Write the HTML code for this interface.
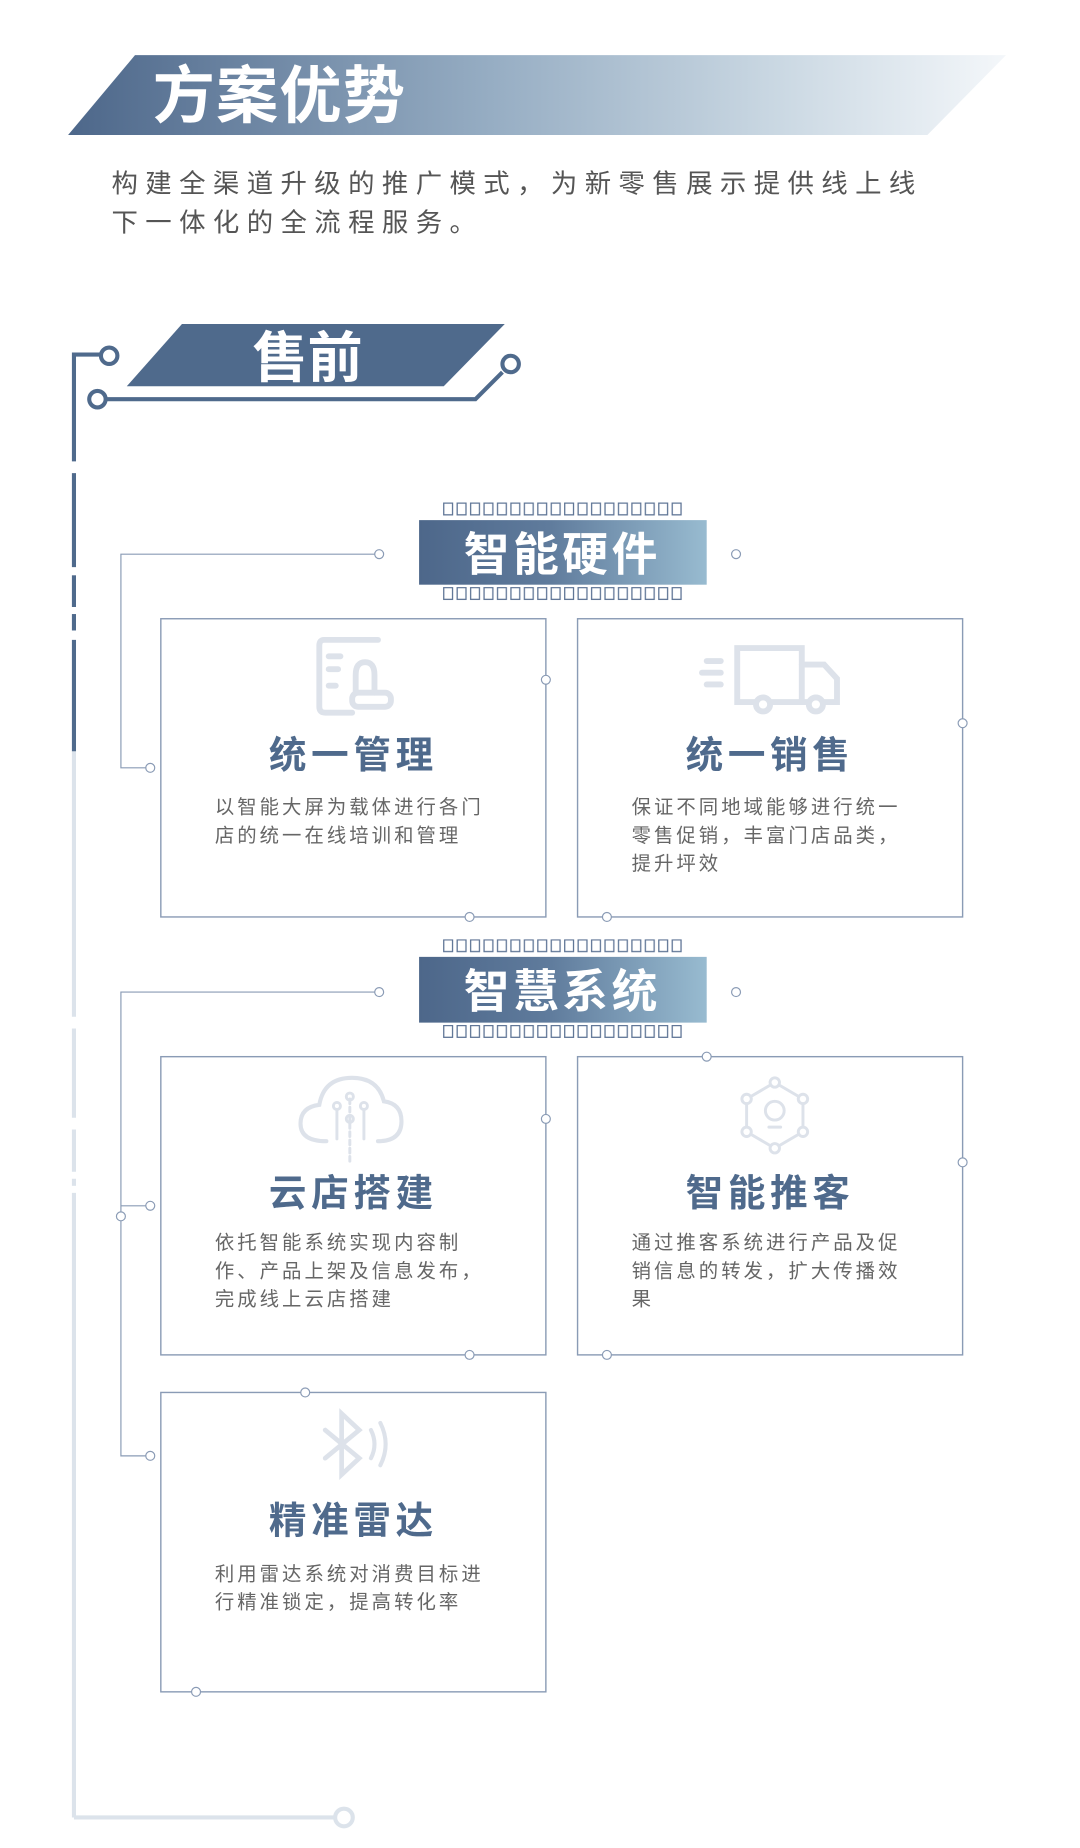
<!DOCTYPE html>
<html><head><meta charset="utf-8"><style>
html,body{margin:0;padding:0;background:#fff;}
svg{display:block;}
text{font-family:"Liberation Sans","Noto Sans CJK SC",sans-serif;}
</style></head><body>
<svg width="1080" height="1848" viewBox="0 0 920 1574" preserveAspectRatio="none" xmlns="http://www.w3.org/2000/svg">
<defs>
<linearGradient id="tg" x1="0" x2="1" y1="0" y2="0">
<stop offset="0" stop-color="#4d678a"/><stop offset="0.45" stop-color="#96adc3"/><stop offset="0.75" stop-color="#c9d7e2"/><stop offset="1" stop-color="#f4f7fa"/>
</linearGradient>
<linearGradient id="hg" x1="0" x2="1" y1="0" y2="0">
<stop offset="0" stop-color="#4d678a"/><stop offset="0.45" stop-color="#5f7b9c"/><stop offset="1" stop-color="#98bbd0"/>
</linearGradient>
<pattern id="t1" x="377" y="428" width="11.45" height="20" patternUnits="userSpaceOnUse"><rect x="1" y="0.5" width="7.5" height="10" fill="none" stroke="#5f7596" stroke-width="1.1"/></pattern>
<pattern id="t2" x="377" y="500" width="11.45" height="20" patternUnits="userSpaceOnUse"><rect x="1" y="0.5" width="7.5" height="10" fill="none" stroke="#5f7596" stroke-width="1.1"/></pattern>
<pattern id="t3" x="377" y="800" width="11.45" height="20" patternUnits="userSpaceOnUse"><rect x="1" y="0.5" width="7.5" height="10" fill="none" stroke="#5f7596" stroke-width="1.1"/></pattern>
<pattern id="t4" x="377" y="873" width="11.45" height="20" patternUnits="userSpaceOnUse"><rect x="1" y="0.5" width="7.5" height="10" fill="none" stroke="#5f7596" stroke-width="1.1"/></pattern>
</defs>

<!-- Title -->
<polygon points="115,47 857,47 790,115 58,115" fill="url(#tg)"/>
<text x="130" y="100" font-size="53" font-weight="bold" fill="#fff" letter-spacing="1">方案优势</text>
<text x="95" y="164" font-size="22.5" fill="#555" letter-spacing="6.3">构建全渠道升级的推广模式，为新零售展示提供线上线</text>
<text x="95" y="197" font-size="22.5" fill="#555" letter-spacing="6.3">下一体化的全流程服务。</text>

<!-- 售前 -->
<polygon points="155,276 430,276 378,329 108,329" fill="#4f6a8c"/>
<text x="262" y="321" font-size="47" font-weight="bold" fill="#fff" text-anchor="middle">售前</text>
<g stroke="#4f6a8c" stroke-width="3.5" fill="none">
<polyline points="85,302 63,302 63,393"/>
<line x1="63" y1="403" x2="63" y2="483"/>
<line x1="63" y1="490" x2="63" y2="517"/>
<line x1="63" y1="523" x2="63" y2="537"/>
<line x1="63" y1="545" x2="63" y2="640"/>
<circle cx="93" cy="303" r="7" fill="#fff"/>
<circle cx="83" cy="340" r="7" fill="#fff"/>
<polyline points="90,340 405,340 428,317"/>
<circle cx="435" cy="310" r="7" fill="#fff"/>
</g>
<g stroke="#dce3eb" stroke-width="3.5" fill="none">
<line x1="63" y1="640" x2="63" y2="866"/>
<line x1="63" y1="876" x2="63" y2="952"/>
<line x1="63" y1="962" x2="63" y2="998"/>
<line x1="63" y1="1004" x2="63" y2="1010"/>
<line x1="63" y1="1016" x2="63" y2="1548"/>
<line x1="63" y1="1548" x2="285" y2="1548"/>
<circle cx="293" cy="1548" r="7.5" fill="#fff"/>
</g>

<!-- Section 1 header -->
<rect x="357" y="443" width="245" height="55" fill="url(#hg)"/>
<text x="479" y="486" font-size="39" font-weight="bold" fill="#fff" text-anchor="middle" letter-spacing="3">智能硬件</text>
<rect x="377" y="428" width="206" height="12" fill="url(#t1)"/>
<rect x="377" y="500" width="206" height="12" fill="url(#t2)"/>
<g stroke="#8a9bb5" stroke-width="1" fill="#fff">
<polyline points="319,472 103,472 103,654 124,654" fill="none"/>
<circle cx="323" cy="472" r="3.8"/>
<circle cx="627" cy="472" r="3.8"/>
<circle cx="128" cy="654" r="3.8"/>
</g>

<!-- Section 2 header -->
<rect x="357" y="815" width="245" height="56" fill="url(#hg)"/>
<text x="479" y="858" font-size="39" font-weight="bold" fill="#fff" text-anchor="middle" letter-spacing="3">智慧系统</text>
<rect x="377" y="800" width="206" height="12" fill="url(#t3)"/>
<rect x="377" y="873" width="206" height="12" fill="url(#t4)"/>
<g stroke="#8a9bb5" stroke-width="1" fill="#fff">
<polyline points="319,845 103,845 103,1240 124,1240" fill="none"/>
<line x1="103" y1="1027" x2="124" y2="1027"/>
<circle cx="323" cy="845" r="3.8"/>
<circle cx="627" cy="845" r="3.8"/>
<circle cx="128" cy="1027" r="3.8"/>
<circle cx="103" cy="1036" r="3.8"/>
<circle cx="128" cy="1240" r="3.8"/>
</g>

<!-- Cards -->
<g stroke="#8a9bb5" stroke-width="1.2" fill="none">
<rect x="137" y="527" width="328" height="254"/>
<rect x="492" y="527" width="328" height="254"/>
<rect x="137" y="900" width="328" height="254"/>
<rect x="492" y="900" width="328" height="254"/>
<rect x="137" y="1186" width="328" height="255"/>
</g>
<g stroke="#8a9bb5" stroke-width="1" fill="#fff">
<circle cx="465" cy="579" r="3.8"/><circle cx="400" cy="781" r="3.8"/>
<circle cx="820" cy="616" r="3.8"/><circle cx="517" cy="781" r="3.8"/>
<circle cx="465" cy="953" r="3.8"/><circle cx="400" cy="1154" r="3.8"/>
<circle cx="602" cy="900" r="3.8"/><circle cx="820" cy="990" r="3.8"/><circle cx="517" cy="1154" r="3.8"/>
<circle cx="260" cy="1186" r="3.8"/><circle cx="167" cy="1441" r="3.8"/>
</g>

<!-- Icons -->
<g stroke="#dde2ea" fill="none" stroke-width="5" stroke-linecap="round">
<path d="M322,545 H276 Q272,545 272,550 V602 Q272,607 277,607 H300"/>
<line x1="280" y1="559" x2="290" y2="559"/><line x1="280" y1="570" x2="288" y2="570"/><line x1="280" y1="584" x2="286" y2="584"/>
<path d="M303,590 V575 Q303,564 311,564 Q319,564 319,575 V590"/>
<rect x="300" y="590" width="33" height="12" rx="5"/>
<path d="M628,552 H683 V598 H628 Z"/>
<path d="M683,566 H702 L713,578 V598 H683"/>
<line x1="602" y1="563" x2="614" y2="563"/><line x1="598" y1="573" x2="614" y2="573"/><line x1="602" y1="583" x2="614" y2="583"/>
<circle cx="650" cy="600" r="6" fill="#fff"/><circle cx="695" cy="600" r="6" fill="#fff"/>
<path d="M278,972 Q256,972 256,957 Q256,943 272,941 Q276,918 300,918 Q322,918 327,938 Q342,940 342,955 Q342,972 322,972" stroke-width="3.5"/>
<g stroke-width="2.5"><line x1="298" y1="936" x2="298" y2="990" stroke-dasharray="4 3"/><line x1="287" y1="945" x2="287" y2="970"/><line x1="310" y1="945" x2="310" y2="970"/>
<circle cx="287" cy="942" r="3"/><circle cx="298" cy="934" r="3"/><circle cx="310" cy="942" r="3"/><circle cx="298" cy="953" r="3"/></g>
<g stroke-width="2.5"><polygon points="660,922 684,936 684,964 660,978 636,964 636,936"/>
<circle cx="660" cy="922" r="4" fill="#fff"/><circle cx="684" cy="936" r="4" fill="#fff"/><circle cx="684" cy="964" r="4" fill="#fff"/><circle cx="660" cy="978" r="4" fill="#fff"/><circle cx="636" cy="964" r="4" fill="#fff"/><circle cx="636" cy="936" r="4" fill="#fff"/>
<circle cx="660" cy="946" r="8"/><line x1="655" y1="960" x2="665" y2="960"/></g>
<path d="M277,1218 L306,1242 L291,1256 V1204 L306,1218 L277,1242" stroke-width="4"/>
<path d="M316,1218 Q322,1230 316,1242" stroke-width="3.5"/><path d="M324,1212 Q333,1230 324,1248" stroke-width="3.5"/>
</g>

<!-- Card text -->
<g font-weight="bold" fill="#4f6a8c" font-size="32" text-anchor="middle" letter-spacing="4">
<text x="301" y="654">统一管理</text>
<text x="656" y="654">统一销售</text>
<text x="301" y="1027">云店搭建</text>
<text x="656" y="1027">智能推客</text>
<text x="301" y="1306">精准雷达</text>
</g>
<g fill="#666" font-size="16.5" letter-spacing="2.6">
<text x="183" y="693">以智能大屏为载体进行各门</text>
<text x="183" y="717">店的统一在线培训和管理</text>
<text x="538" y="693">保证不同地域能够进行统一</text>
<text x="538" y="717">零售促销，丰富门店品类，</text>
<text x="538" y="741">提升坪效</text>
<text x="183" y="1064">依托智能系统实现内容制</text>
<text x="183" y="1088">作、产品上架及信息发布，</text>
<text x="183" y="1112">完成线上云店搭建</text>
<text x="538" y="1064">通过推客系统进行产品及促</text>
<text x="538" y="1088">销信息的转发，扩大传播效</text>
<text x="538" y="1112">果</text>
<text x="183" y="1346">利用雷达系统对消费目标进</text>
<text x="183" y="1370">行精准锁定，提高转化率</text>
</g>
</svg>
</body></html>
